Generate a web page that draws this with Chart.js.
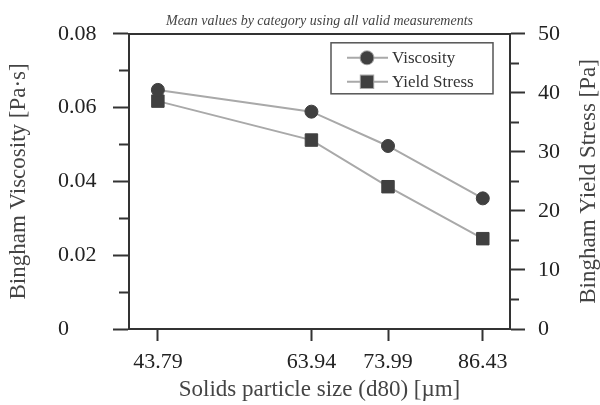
<!DOCTYPE html>
<html>
<head>
<meta charset="utf-8">
<script src="https://cdn.jsdelivr.net/npm/chart.js@4"></script>
<style>
  html, body { margin: 0; padding: 0; background: #fff; }
  #wrap { width: 600px; height: 405px; }
</style>
</head>
<body>
<div id="wrap"><canvas id="chart" width="600" height="405"></canvas></div>
<script>
// datos
const sizes = [43.79, 63.94, 73.99, 86.43];
const viscosity = [0.0648, 0.0589, 0.0496, 0.0354];
const yieldStress = [38.6, 32.0, 24.1, 15.3];
const seriesNames = ['Viscosity', 'Yield Stress'];

const serif = 'Liberation Serif';
const axisColor = '#333';
const lineGrey = '#a9a9a9';
const markGrey = '#404040';

// titulos verticales (el de la derecha va de abajo hacia arriba)
const yTitles = {
  id: 'yTitles',
  afterDraw(chart) {
    const ctx = chart.ctx;
    const area = chart.chartArea;
    const midY = (area.top + area.bottom) / 2;
    const draw = (scale, x) => {
      ctx.save();
      ctx.translate(x, midY);
      ctx.rotate(-Math.PI / 2);
      ctx.font = '23px "' + serif + '"';
      ctx.fillStyle = '#444';
      ctx.textAlign = 'center';
      ctx.textBaseline = 'middle';
      ctx.fillText(scale.options.title.text, 0, 0);
      ctx.restore();
    };
    draw(chart.scales.y, 19);
    draw(chart.scales.y1, 589);
  }
};

// leyenda con recuadro dentro del area
const boxLegend = {
  id: 'boxLegend',
  afterDraw(chart) {
    const ctx = chart.ctx;
    const area = chart.chartArea;
    const w = 162, h = 51;
    const left = area.right - 17 - w;
    const top = area.top + 9;
    ctx.save();
    ctx.strokeStyle = '#555';
    ctx.lineWidth = 1.5;
    ctx.strokeRect(left, top, w, h);
    chart.data.datasets.forEach((ds, i) => {
      const y = top + 15 + i * 24;
      ctx.strokeStyle = lineGrey;
      ctx.lineWidth = 2;
      ctx.beginPath();
      ctx.moveTo(left + 16, y);
      ctx.lineTo(left + 57, y);
      ctx.stroke();
      Chart.helpers.drawPoint(ctx, {
        pointStyle: ds.pointStyle,
        radius: ds.pointRadius,
        borderWidth: 1
      }, left + 36, y);
      ctx.fillStyle = markGrey;
      ctx.strokeStyle = markGrey;
      ctx.fill();
      ctx.font = '17px "' + serif + '"';
      ctx.fillStyle = '#333';
      ctx.textAlign = 'left';
      ctx.textBaseline = 'middle';
      ctx.fillText(ds.label, left + 61, y + 1);
    });
    ctx.restore();
  }
};

new Chart(document.getElementById('chart'), {
  type: 'line',
  data: {
    datasets: [{
      label: seriesNames[0],
      data: sizes.map((s, i) => ({x: s, y: viscosity[i]})),
      yAxisID: 'y',
      borderColor: lineGrey,
      borderWidth: 2,
      pointStyle: 'circle',
      pointRadius: 6.5,
      pointBackgroundColor: markGrey,
      pointBorderColor: markGrey,
      pointBorderWidth: 1
    }, {
      label: seriesNames[1],
      data: sizes.map((s, i) => ({x: s, y: yieldStress[i]})),
      yAxisID: 'y1',
      borderColor: lineGrey,
      borderWidth: 2,
      pointStyle: 'rect',
      pointRadius: 8.8,
      pointBackgroundColor: markGrey,
      pointBorderColor: markGrey,
      pointBorderWidth: 1
    }]
  },
  options: {
    responsive: false,
    animation: false,
    layout: { padding: { left: 58, top: 0, right: 0, bottom: 0 } },
    plugins: {
      legend: { display: false },
      tooltip: { enabled: false },
      title: {
        display: true,
        text: 'Mean values by category using all valid measurements',
        fullSize: false,
        color: '#444',
        font: { family: serif, size: 14, style: 'italic', weight: 'normal' },
        padding: { top: 13, bottom: 4 }
      }
    },
    scales: {
      x: {
        type: 'linear',
        position: 'bottom',
        min: 40,
        max: 90,
        afterBuildTicks: (scale) => { scale.ticks = sizes.map(v => ({value: v})); },
        afterFit: (scale) => { scale.height = 76; },
        ticks: {
          color: '#222',
          padding: 8,
          maxRotation: 0,
          autoSkip: false,
          font: { family: serif, size: 22 },
          callback: (v) => v.toFixed(2)
        },
        grid: { drawOnChartArea: false, tickLength: 12, tickWidth: 2, tickColor: axisColor },
        border: { color: axisColor, width: 2 },
        title: {
          display: true,
          text: 'Solids particle size (d80) [µm]',
          color: '#444',
          font: { family: serif, size: 23 },
          padding: { top: 0, bottom: 1 }
        }
      },
      xTop: {
        type: 'linear',
        position: 'top',
        min: 40,
        max: 90,
        afterFit: (scale) => { scale.height = 0; },
        ticks: { display: false },
        grid: { drawOnChartArea: false, drawTicks: false },
        border: { color: axisColor, width: 2 }
      },
      y: {
        position: 'left',
        min: 0,
        max: 0.08,
        afterFit: (scale) => { scale.width = 71; },
        ticks: {
          stepSize: 0.01,
          color: '#222',
          crossAlign: 'far',
          font: { family: serif, size: 22 },
          callback: (v) => {
            const k = Math.round(v * 100);
            if (k % 2) return '';
            return k === 0 ? '0' : (k / 100).toFixed(2);
          }
        },
        grid: {
          drawOnChartArea: false,
          tickLength: 16,
          tickWidth: 2,
          tickColor: axisColor,
          tickBorderDash: (c) => (Math.round(c.tick.value * 100) % 2 ? [0, 6, 10] : [])
        },
        border: { color: axisColor, width: 2 },
        title: { display: false, text: 'Bingham Viscosity [Pa·s]' }
      },
      y1: {
        position: 'right',
        min: 0,
        max: 50,
        afterFit: (scale) => { scale.width = 90; },
        ticks: {
          stepSize: 5,
          color: '#222',
          padding: 13,
          font: { family: serif, size: 22 },
          callback: (v) => (Math.round(v) % 10 ? '' : String(v))
        },
        grid: {
          drawOnChartArea: false,
          tickLength: 15,
          tickWidth: 2,
          tickColor: axisColor,
          tickBorderDash: (c) => (Math.round(c.tick.value) % 10 ? [8, 100] : [])
        },
        border: { color: axisColor, width: 2 },
        title: { display: false, text: 'Bingham Yield Stress [Pa]' }
      }
    }
  },
  plugins: [yTitles, boxLegend]
});
</script>
</body>
</html>
